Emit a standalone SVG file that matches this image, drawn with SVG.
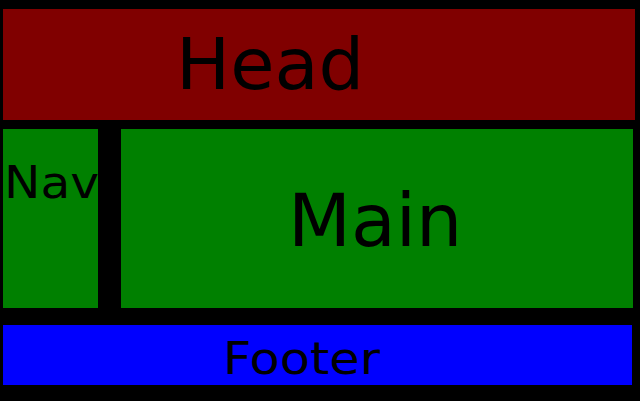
<svg xmlns="http://www.w3.org/2000/svg" width="640" height="401" viewBox="0 0 640 401">
<style>
text{font-family:"DejaVu Sans",sans-serif;fill:#000}
</style>
<rect x="0" y="0" width="640" height="401" fill="#000"/>
<g id="head"><rect x="3" y="9" width="632" height="111" fill="#800000"/><text x="176" y="89" font-size="72">Head</text></g>
<g id="nav"><rect x="3" y="129" width="95" height="179" fill="#008000"/><text x="4" y="198" font-size="45" textLength="95" lengthAdjust="spacingAndGlyphs">Nav</text></g>
<g id="main"><rect x="121" y="129" width="512" height="179" fill="#008000"/><text x="288" y="246" font-size="73">Main</text></g>
<g id="footer"><rect x="3" y="325" width="629" height="60" fill="#0000ff"/><text x="223" y="374" font-size="45" textLength="157" lengthAdjust="spacingAndGlyphs">Footer</text></g>
<g id="connectors"/>
</svg>
